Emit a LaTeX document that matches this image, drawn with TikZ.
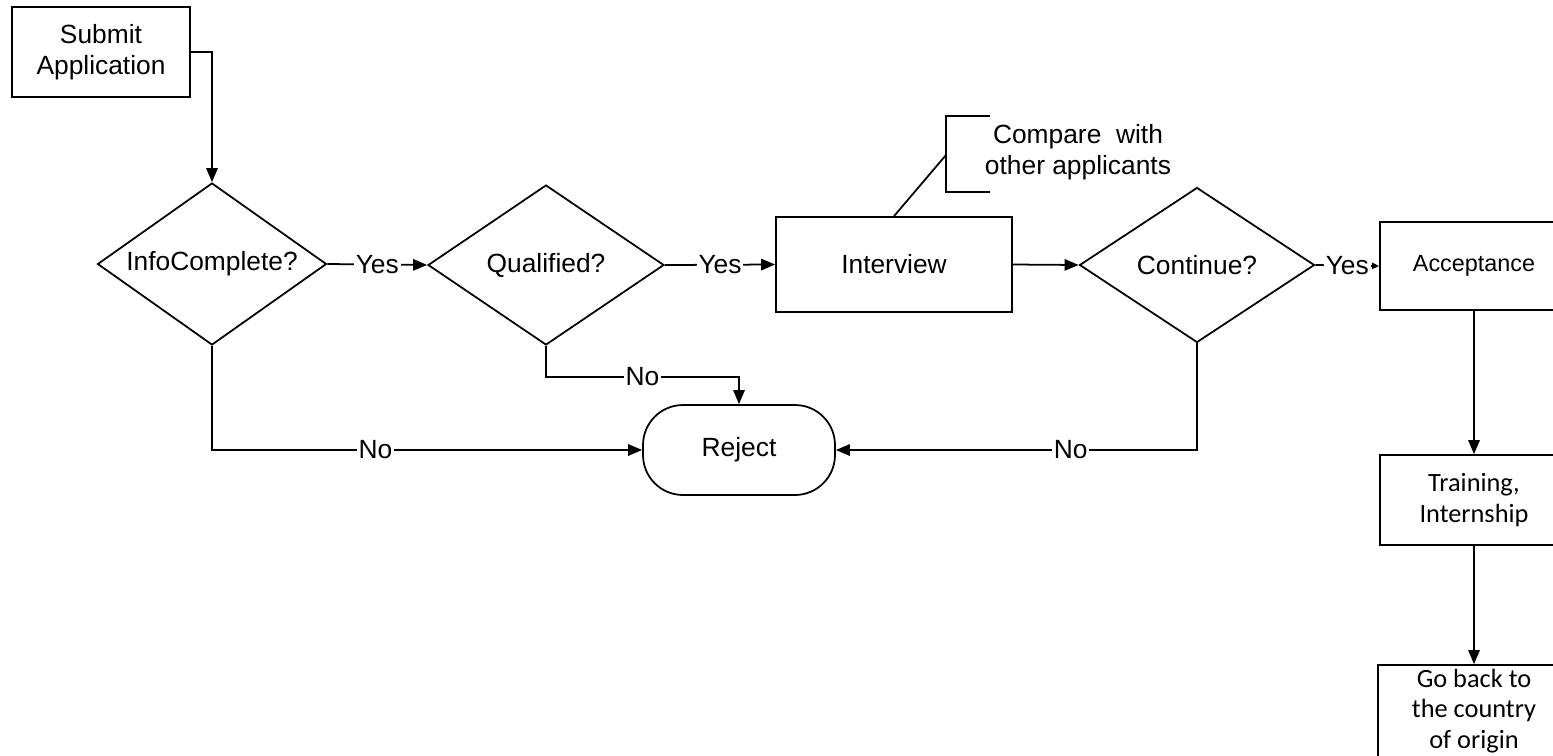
\documentclass[tikz,border=0pt]{standalone}
\usepackage{fontspec}
\setmainfont{Liberation Sans}
\newfontfamily\calfont{Carlito}
\usetikzlibrary{shapes.geometric, arrows.meta}
\begin{document}
\begin{tikzpicture}[x=0.02cm, y=-0.02cm, line width=1pt,
    >={Triangle[length=8pt, width=6.5pt]},
    font=\fontsize{15pt}{18pt}\selectfont,
    box/.style={draw, minimum width=3.76cm, minimum height=1.8cm, align=center, inner sep=0pt},
    decide/.style={draw, diamond, aspect=1.4, inner sep=0pt},
    term/.style={draw, rounded corners=0.8cm, minimum width=3.84cm, minimum height=1.8cm},
    calib/.style={font=\calfont\fontsize{15pt}{17.5pt}\selectfont},
    lbl/.style={fill=white, inner sep=1pt, font=\fontsize{15pt}{18pt}\selectfont}]
    \useasboundingbox (0,0) rectangle (1553,755);
    \node[box, minimum width=3.56cm] (sub) at (101,52) {Submit\\Application};
    \node[decide, minimum width=4.58cm, minimum height=3.24cm] (ic) at (212,264) {InfoComplete?};
    \node[decide, minimum width=4.72cm, minimum height=3.2cm] (q) at (546,265) {Qualified?};
    \node[box, minimum width=4.72cm, minimum height=1.9cm] (int) at (894,264.5) {Interview};
    \node[decide, minimum width=4.7cm, minimum height=3.1cm] (cont) at (1197,265) {Continue?};
    \node[box, minimum height=1.76cm, font=\fontsize{13.3pt}{16pt}\selectfont] (acc) at (1474,266) {Acceptance};
    \node[box, calib] (trn) at (1474,500) {Training,\\Internship};
    \node[box, calib, minimum width=3.84cm, minimum height=1.84cm] (home) at (1474,711) {Go back to\\the country\\of origin};
    \node[term] (rej) at (739,450) {Reject};
    \node[align=center] (cmp) at (1078,152) {Compare~ with\\other applicants};
    \coordinate (brk) at (946,155);
    \draw (990,116) -- (946,116) -- (946,192) -- (990,192);
    \draw (int.north) -- (brk);
    \draw[->] (sub.east) -| (ic.north);
    \draw[->] (ic.east) -- node[lbl]{Yes} (q.west);
    \draw[->] (q.east) -- node[lbl]{Yes} (int.west);
    \draw[->] (int.east) -- (cont.west);
    \draw[-{Triangle[length=4pt, width=3.5pt]}] (cont.east) -- node[lbl]{Yes} (acc.west);
    \draw[->] (acc.south) -- (trn.north);
    \draw[->] (trn.south) -- (home.north);
    \draw[->] (ic.south) |- node[lbl, pos=0.69]{No} (rej.west);
    \draw[->] (q.south) -- ++(0,31) -| node[lbl, pos=0.25]{No} (rej.north);
    \draw[->] (cont.south) |- node[lbl, pos=0.675]{No} (rej.east);
\end{tikzpicture}
\end{document}
